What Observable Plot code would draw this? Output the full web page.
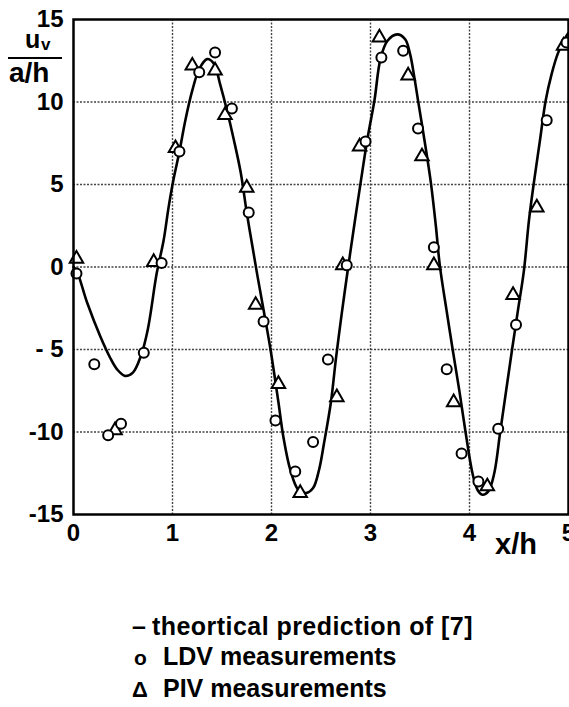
<!DOCTYPE html>
<html><head><meta charset="utf-8">
<script src="https://cdn.jsdelivr.net/npm/d3@7"></script>
<script src="https://cdn.jsdelivr.net/npm/@observablehq/plot@0.6"></script>
<style>
html,body{margin:0;padding:0;background:#fff;}
body{font-family:"Liberation Sans",Arial,sans-serif;color:#000;}
#wrap{position:relative;width:569px;height:707px;overflow:hidden;}
#chart{position:absolute;left:0;top:0;}
.abs{position:absolute;white-space:nowrap;line-height:1;font-weight:bold;}
#legend{position:absolute;left:132px;top:611px;font-size:25px;line-height:30px;white-space:nowrap;font-weight:bold;}
.sym{display:inline-block;}
</style></head><body>
<div id="wrap">
  <div id="chart"></div>
  <span class="abs" style="left:25px;top:27px;font-size:25px;">u</span>
  <span class="abs" style="left:41px;top:36px;font-size:17px;">v</span>
  <div class="abs" style="left:8px;top:57px;width:54px;height:0;border-top:2.5px solid #000;"></div>
  <span class="abs" style="left:9px;top:59px;font-size:28px;">a/h</span>
  <span class="abs" style="left:495px;top:530px;font-size:29px;">x/h</span>
  <div id="legend">
    <div style="letter-spacing:0.45px;"><span class="sym" style="width:20px;letter-spacing:0;">–</span>theortical prediction of [7]</div>
    <div><span class="sym" style="width:31px;padding-left:2px;box-sizing:border-box;font-size:21px;">o</span>LDV measurements</div>
    <div><span class="sym" style="width:31px;font-size:22px;">Δ</span>PIV measurements</div>
  </div>
</div>
<script>
// theoretical prediction
const theoryX = [0, 0.03, 0.14, 0.27, 0.37, 0.44, 0.52, 0.60, 0.68, 0.75, 0.84, 0.91, 0.96, 1.01, 1.07, 1.13, 1.20, 1.27, 1.35, 1.42, 1.48, 1.55, 1.62, 1.69, 1.75, 1.82, 1.86, 1.92, 1.99, 2.07, 2.12, 2.19, 2.27, 2.35, 2.42, 2.48, 2.53, 2.60, 2.65, 2.71, 2.77, 2.84, 2.90, 2.97, 3.04, 3.10, 3.17, 3.27, 3.35, 3.40, 3.44, 3.48, 3.55, 3.61, 3.66, 3.70, 3.77, 3.83, 3.90, 3.96, 4.03, 4.08, 4.13, 4.19, 4.25, 4.31, 4.37, 4.43, 4.49, 4.55, 4.60, 4.65, 4.71, 4.77, 4.83, 4.89, 4.95, 5.0];
const theoryY = [0, -0.2, -2.2, -4.2, -5.5, -6.2, -6.6, -6.4, -5.4, -3.8, -0.4, 1.6, 3.6, 5.3, 7.0, 8.9, 10.7, 12.0, 12.6, 12.3, 11.1, 9.5, 7.7, 5.7, 3.3, 0.8, -0.6, -2.6, -5.0, -8.2, -10.3, -12.3, -13.5, -13.7, -13.4, -12.3, -10.7, -8.2, -5.6, -2.8, -0.2, 2.7, 5.1, 7.8, 10.1, 12.6, 13.7, 14.1, 13.8, 12.9, 11.6, 10.1, 7.5, 5.1, 2.5, 0.1, -2.7, -5.0, -7.6, -10.0, -12.5, -13.5, -13.8, -13.6, -12.5, -10.0, -7.5, -5.0, -2.6, -0.2, 2.8, 5.1, 7.6, 10.1, 11.7, 12.9, 13.7, 14.2];

// LDV measurements
const ldvX = [0.03, 0.21, 0.35, 0.48, 0.71, 0.89, 1.07, 1.27, 1.43, 1.60, 1.77, 1.92, 2.04, 2.24, 2.42, 2.57, 2.76, 2.95, 3.11, 3.33, 3.48, 3.64, 3.77, 3.92, 4.09, 4.29, 4.47, 4.78, 4.98];
const ldvY = [-0.4, -5.9, -10.2, -9.5, -5.2, 0.24, 7.0, 11.8, 13.0, 9.6, 3.3, -3.3, -9.3, -12.4, -10.6, -5.6, 0.1, 7.6, 12.7, 13.1, 8.4, 1.2, -6.2, -11.3, -13.0, -9.8, -3.5, 8.9, 13.6];

// PIV measurements
const pivX = [0.03, 0.42, 0.81, 1.03, 1.20, 1.43, 1.53, 1.75, 1.84, 2.07, 2.29, 2.66, 2.72, 2.89, 3.09, 3.38, 3.52, 3.64, 3.84, 4.18, 4.44, 4.68, 4.95];
const pivY = [0.5, -9.9, 0.3, 7.2, 12.2, 11.9, 9.2, 4.8, -2.3, -7.1, -13.7, -7.9, 0.1, 7.3, 13.9, 11.6, 6.7, 0.1, -8.2, -13.3, -1.7, 3.6, 13.4];

// ticks
const xTicks = [0, 1, 2, 3, 4, 5];
const xGrid = [1, 2, 3, 4];
const yTicks = [-15, -10, -5, 0, 5, 10, 15];
const yTickLabels = ["-15", "-10", "- 5", "0", "5", "10", "15"];
const yGrid = [-10, -5, 0, 5, 10];

const theory = theoryX.map((x, i) => ({x, y: theoryY[i]}));
const ldv = ldvX.map((x, i) => ({x, y: ldvY[i]}));
const piv = pivX.map((x, i) => ({x, y: pivY[i]}));

const plot = Plot.plot({
  width: 569,
  height: 570,
  marginLeft: 73,
  marginRight: 1,
  marginTop: 19,
  marginBottom: 56,
  x: {domain: [0, 5], label: null},
  y: {domain: [-15, 15], label: null},
  style: {fontFamily: "'Liberation Sans', Arial, sans-serif", fontSize: "24px", fontWeight: "bold", color: "#000", background: "transparent"},
  marks: [
    Plot.ruleX(xGrid, {x: d => d, stroke: "#444", strokeWidth: 1.4, strokeDasharray: "2 1.5"}),
    Plot.ruleY(yGrid, {y: d => d, stroke: "#444", strokeWidth: 1.4, strokeDasharray: "2 1.5"}),
    Plot.line(theory, {x: "x", y: "y", curve: "catmull-rom", stroke: "#000", strokeWidth: 2.6}),
    Plot.dot(piv, {x: "x", y: "y", symbol: "triangle", r: 5, stroke: "#000", strokeWidth: 2, fill: "#fff"}),
    Plot.dot(ldv, {x: "x", y: "y", symbol: "circle", r: 5, stroke: "#000", strokeWidth: 2, fill: "#fff"}),
    Plot.frame({stroke: "#000", strokeWidth: 2.5}),
    Plot.axisY(yTicks, {label: null, tickSize: 0, tickPadding: 10, fontSize: 24, fontWeight: "bold", tickFormat: d => yTickLabels[yTicks.indexOf(d)]}),
    Plot.axisX(xTicks, {label: null, tickSize: 0, tickPadding: 9, fontSize: 24, fontWeight: "bold", tickFormat: d => String(d)})
  ]
});
document.getElementById("chart").append(plot);
</script>
</body></html>
